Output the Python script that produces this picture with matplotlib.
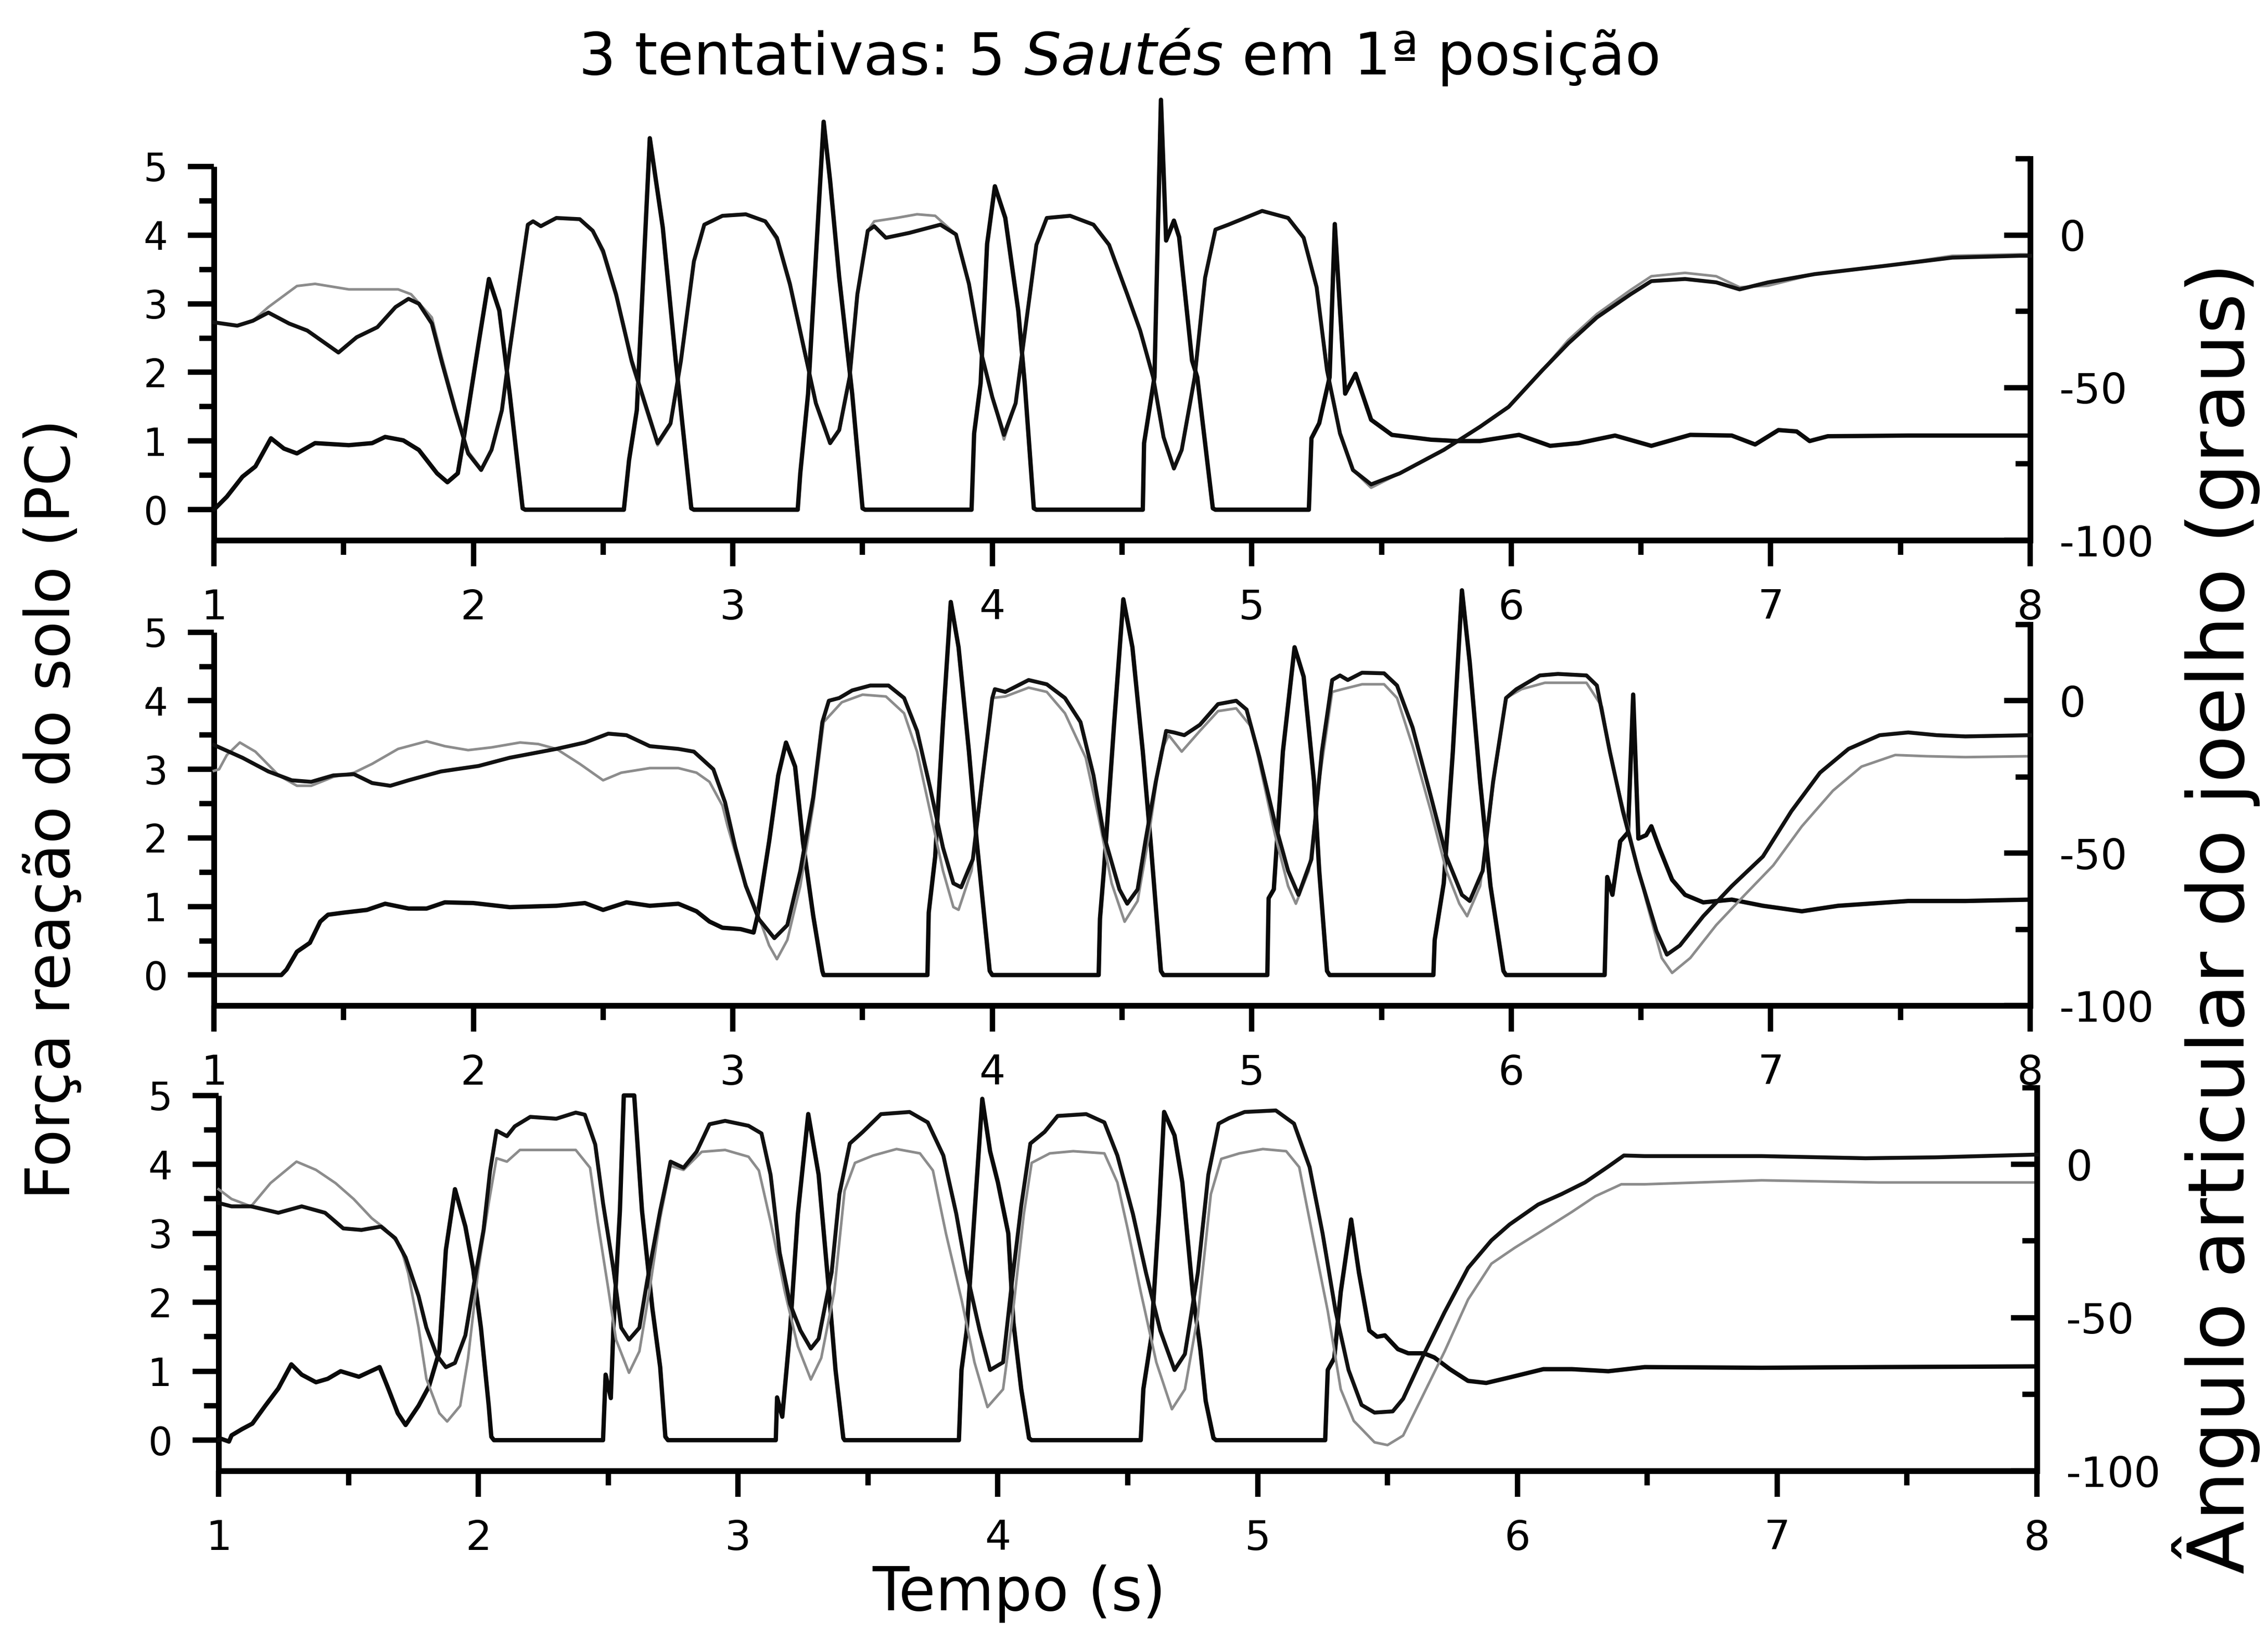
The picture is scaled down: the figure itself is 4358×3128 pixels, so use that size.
import matplotlib
matplotlib.use("Agg")
import matplotlib.pyplot as plt
from matplotlib.ticker import MultipleLocator, FixedLocator, NullFormatter

plt.rcParams['font.family'] = ['DejaVu Sans']
plt.rcParams['axes.unicode_minus'] = False

# ---------------- data (time s, value) ----------------
# Panel 1 -- ground reaction force (PC)
p1_force = [(1.00,0),(1.05,0.19),(1.11,0.48),(1.16,0.63),(1.22,1.04),(1.27,0.89),(1.32,0.82),(1.39,0.97),
    (1.52,0.94),(1.61,0.97),(1.66,1.06),(1.73,1.01),(1.79,0.87),(1.86,0.53),(1.90,0.40),(1.94,0.53),(1.96,0.97),
    (2.02,2.42),(2.06,3.36),(2.10,2.90),(2.14,1.69),(2.19,0.02),(2.20,0),(2.58,0),(2.60,0.72),(2.63,1.45),
    (2.68,5.41),(2.73,4.11),(2.78,2.17),(2.84,0.02),(2.85,0),(3.25,0),(3.26,0.53),(3.29,1.69),(3.35,5.65),
    (3.375,4.79),(3.41,3.38),(3.46,1.69),(3.50,0.02),(3.51,0),(3.92,0),(3.93,1.11),(3.955,1.84),(3.98,3.87),
    (4.01,4.71),(4.05,4.25),(4.10,2.90),(4.125,1.84),(4.16,0.02),(4.17,0),(4.58,0),(4.585,0.97),(4.625,1.93),
    (4.65,5.97),(4.67,3.92),(4.70,4.21),(4.72,3.97),(4.77,2.17),(4.79,1.93),(4.85,0.02),(4.86,0),(5.22,0),
    (5.23,1.04),(5.26,1.26),(5.30,1.93),(5.32,4.16),(5.36,1.69),(5.40,1.98),(5.46,1.31),(5.54,1.09),(5.69,1.02),
    (5.79,1.00),(5.88,1.00),(6.03,1.09),(6.15,0.93),(6.26,0.97),(6.40,1.08),(6.54,0.93),(6.69,1.09),(6.85,1.08),
    (6.94,0.95),(7.03,1.16),(7.10,1.14),(7.15,1.00),(7.22,1.07),(7.53,1.08),(8.00,1.08)]
# Panel 1 -- knee angle (graus), black and grey traces
p1_knee_black = [(1.00,-28.6),(1.09,-29.7),(1.15,-28.1),(1.21,-25.4),(1.29,-29.0),(1.36,-31.3),(1.43,-35.5),
    (1.48,-38.5),(1.55,-33.5),(1.63,-30.2),(1.70,-23.6),(1.75,-20.9),(1.79,-22.5),(1.84,-29.0),(1.88,-42.1),
    (1.93,-57.4),(1.98,-71.6),(2.03,-77.0),(2.07,-70.4),(2.11,-57.4),(2.14,-37.8),(2.18,-14.0),(2.21,3.4),
    (2.23,4.5),(2.26,2.9),(2.32,5.6),(2.41,5.2),(2.46,1.4),(2.50,-5.2),(2.55,-19.4),(2.61,-41.2),(2.67,-57.4),
    (2.71,-68.2),(2.76,-61.7),(2.80,-41.2),(2.85,-8.6),(2.89,3.4),(2.96,6.3),(3.05,6.8),(3.125,4.5),(3.17,-0.9),
    (3.22,-16.0),(3.27,-35.5),(3.32,-55.1),(3.375,-68.2),(3.41,-63.9),(3.45,-46.6),(3.48,-19.4),(3.52,1.4),
    (3.545,2.9),(3.59,-0.9),(3.68,0.7),(3.80,3.4),(3.86,0.2),(3.91,-16.0),(3.955,-37.8),(4.00,-53.1),
    (4.045,-65.5),(4.09,-55.1),(4.13,-29.0),(4.17,-3.2),(4.21,5.6),(4.30,6.3),(4.39,3.4),(4.45,-3.2),
    (4.52,-19.4),(4.57,-31.3),(4.62,-46.6),(4.66,-66.2),(4.70,-76.5),(4.73,-70.4),(4.78,-46.6),(4.82,-14.0),
    (4.86,1.8),(4.91,3.4),(5.04,7.9),(5.14,5.6),(5.20,-0.9),(5.25,-17.1),(5.29,-44.3),(5.34,-65.0),(5.39,-77.0),
    (5.46,-81.7),(5.57,-78.1),(5.74,-70.4),(5.88,-62.8),(5.99,-56.3),(6.12,-44.3),(6.22,-35.5),(6.33,-27.0),
    (6.46,-19.4),(6.54,-15.1),(6.67,-14.4),(6.79,-15.5),(6.88,-17.8),(6.99,-15.5),(7.17,-12.8),(7.44,-10.1),
    (7.70,-7.4),(7.96,-6.8),(8.00,-6.8)]
p1_knee_grey = [(1.00,-28.6),(1.09,-29.7),(1.15,-28.1),(1.21,-23.6),(1.32,-16.7),(1.39,-16.0),(1.52,-17.8),
    (1.71,-17.8),(1.76,-19.4),(1.84,-27.0),(1.88,-40.5),(1.93,-56.3),(1.98,-70.9),(2.03,-76.5),(2.07,-70.4),
    (2.11,-57.4),(2.14,-37.8),(2.18,-14.0),(2.21,3.4),(2.23,4.5),(2.26,2.9),(2.32,5.6),(2.41,5.2),(2.46,1.4),
    (2.50,-6.3),(2.55,-20.5),(2.61,-42.3),(2.67,-58.5),(2.71,-68.9),(2.76,-62.3),(2.80,-41.2),(2.85,-8.6),
    (2.89,3.4),(2.96,6.3),(3.05,6.8),(3.125,4.5),(3.17,-1.8),(3.22,-17.1),(3.27,-36.6),(3.32,-55.1),
    (3.375,-68.2),(3.41,-63.9),(3.45,-46.6),(3.48,-19.4),(3.52,1.4),(3.545,4.5),(3.63,5.6),(3.71,6.8),
    (3.78,6.3),(3.86,0.2),(3.91,-16.0),(3.955,-37.8),(4.00,-53.1),(4.045,-67.0),(4.09,-55.1),(4.13,-29.0),
    (4.17,-3.2),(4.21,5.6),(4.30,6.3),(4.39,3.4),(4.45,-3.2),(4.52,-19.4),(4.57,-31.3),(4.62,-46.6),
    (4.66,-66.2),(4.70,-76.5),(4.73,-70.4),(4.78,-46.6),(4.82,-14.0),(4.86,1.8),(4.91,3.4),(5.04,7.9),
    (5.14,5.6),(5.20,-0.9),(5.25,-17.1),(5.29,-44.3),(5.34,-65.0),(5.39,-77.0),(5.46,-82.8),(5.57,-78.1),
    (5.74,-70.4),(5.88,-62.8),(5.99,-56.3),(6.12,-44.3),(6.22,-34.4),(6.33,-25.9),(6.46,-18.0),(6.54,-13.5),
    (6.67,-12.4),(6.79,-13.5),(6.88,-17.1),(6.99,-16.6),(7.17,-12.8),(7.44,-10.1),(7.70,-6.8),(7.96,-6.3),
    (8.00,-6.3)]

# Panel 2
p2_force = [(1.00,0),(1.26,0),(1.28,0.08),(1.32,0.34),(1.37,0.47),(1.41,0.78),(1.44,0.88),(1.50,0.91),
    (1.59,0.95),(1.66,1.04),(1.75,0.97),(1.82,0.97),(1.89,1.06),(2.00,1.05),(2.14,0.99),(2.32,1.01),(2.43,1.05),
    (2.50,0.95),(2.59,1.06),(2.68,1.01),(2.79,1.04),(2.86,0.93),(2.91,0.78),(2.96,0.69),(3.03,0.67),(3.08,0.62),
    (3.095,0.86),(3.14,1.95),(3.175,2.91),(3.205,3.39),(3.24,3.04),(3.27,1.95),(3.31,0.86),(3.345,0.06),
    (3.35,0),(3.75,0),(3.755,0.91),(3.78,1.73),(3.81,3.69),(3.84,5.44),(3.87,4.78),(3.91,3.26),(3.94,1.95),
    (3.99,0.06),(4.00,0),(4.41,0),(4.415,0.82),(4.43,1.52),(4.47,3.69),(4.505,5.48),(4.54,4.78),(4.58,3.26),
    (4.61,1.95),(4.65,0.06),(4.66,0),(5.06,0),(5.065,1.12),(5.085,1.25),(5.12,3.26),(5.165,4.78),(5.20,4.35),
    (5.24,2.82),(5.26,1.52),(5.29,0.06),(5.30,0),(5.70,0),(5.705,0.51),(5.74,1.34),(5.775,3.26),(5.81,5.61),
    (5.84,4.56),(5.88,2.82),(5.92,1.30),(5.97,0.06),(5.98,0),(6.36,0),(6.37,1.43),(6.39,1.17),(6.42,1.95),
    (6.45,2.08),(6.47,4.09),(6.49,1.99),(6.52,2.04),(6.54,2.17),(6.57,1.86),(6.62,1.39),(6.67,1.17),(6.74,1.06),
    (6.85,1.10),(6.97,1.01),(7.12,0.93),(7.26,1.01),(7.53,1.08),(7.75,1.08),(8.00,1.10)]
p2_knee_black = [(1.00,-14.5),(1.11,-18.7),(1.21,-23.2),(1.30,-26.1),(1.375,-26.6),(1.46,-24.5),(1.54,-24.1),
    (1.61,-27.0),(1.68,-27.9),(1.75,-26.1),(1.875,-23.2),(2.02,-21.4),(2.14,-18.7),(2.32,-15.8),(2.43,-13.7),
    (2.52,-10.8),(2.59,-11.3),(2.68,-14.9),(2.79,-15.8),(2.85,-16.7),(2.925,-22.5),(2.97,-33.3),(3.01,-48.2),
    (3.05,-60.8),(3.10,-71.6),(3.16,-77.9),(3.21,-73.6),(3.26,-55.8),(3.31,-31.5),(3.345,-7.0),(3.37,0.0),
    (3.41,0.9),(3.46,3.4),(3.53,5.0),(3.60,5.0),(3.66,0.9),(3.71,-9.9),(3.76,-28.4),(3.81,-48.2),(3.85,-59.9),
    (3.88,-61.2),(3.925,-52.0),(3.96,-26.6),(4.00,0.9),(4.01,3.8),(4.05,2.9),(4.14,6.8),(4.21,5.4),(4.28,0.9),
    (4.34,-7.0),(4.39,-24.5),(4.43,-44.1),(4.49,-61.9),(4.52,-66.6),(4.56,-61.9),(4.59,-46.1),(4.63,-26.6),
    (4.67,-9.9),(4.70,-10.4),(4.74,-11.3),(4.80,-7.9),(4.87,-1.1),(4.94,0.0),(4.98,-2.9),(5.03,-18.7),
    (5.09,-40.3),(5.14,-55.8),(5.18,-63.7),(5.23,-52.0),(5.27,-16.7),(5.31,6.8),(5.34,8.3),(5.37,6.8),
    (5.425,9.2),(5.51,9.0),(5.56,5.0),(5.62,-8.8),(5.69,-31.3),(5.75,-51.1),(5.81,-63.7),(5.84,-65.7),
    (5.89,-55.8),(5.93,-26.6),(5.98,0.9),(6.02,3.8),(6.11,8.3),(6.18,8.8),(6.29,8.3),(6.33,5.0),(6.38,-16.7),
    (6.43,-36.2),(6.49,-55.8),(6.56,-75.6),(6.60,-83.3),(6.65,-80.3),(6.74,-70.7),(6.85,-60.8),(6.97,-51.1),
    (7.08,-36.2),(7.19,-23.6),(7.30,-15.8),(7.42,-11.3),(7.53,-10.4),(7.64,-11.3),(7.75,-11.7),(8.00,-11.3)]
p2_knee_grey = [(1.00,-23.0),(1.02,-22.5),(1.05,-17.8),(1.10,-13.7),(1.16,-16.7),(1.25,-24.5),(1.32,-27.9),
    (1.375,-27.9),(1.46,-25.0),(1.54,-23.6),(1.61,-20.7),(1.71,-15.8),(1.82,-13.3),(1.89,-14.9),(1.98,-16.2),
    (2.07,-15.3),(2.18,-13.7),(2.25,-14.2),(2.32,-15.8),(2.41,-20.7),(2.50,-26.1),(2.57,-23.6),(2.68,-22.1),
    (2.79,-22.1),(2.86,-23.6),(2.91,-26.6),(2.96,-34.4),(2.98,-41.2),(3.03,-55.8),(3.09,-68.6),(3.14,-80.3),
    (3.17,-84.8),(3.21,-78.5),(3.26,-60.8),(3.31,-34.4),(3.35,-7.0),(3.42,-0.5),(3.50,2.0),(3.59,1.4),
    (3.66,-4.1),(3.71,-16.7),(3.76,-36.2),(3.81,-55.8),(3.85,-67.7),(3.87,-68.6),(3.92,-55.8),(3.96,-28.4),
    (4.00,0.9),(4.05,1.4),(4.14,4.3),(4.21,2.9),(4.28,-4.1),(4.36,-18.7),(4.41,-38.3),(4.46,-59.9),
    (4.51,-72.5),(4.56,-65.7),(4.60,-46.1),(4.65,-16.7),(4.68,-11.3),(4.73,-16.7),(4.80,-9.9),(4.87,-3.4),
    (4.94,-2.5),(5.00,-8.8),(5.04,-24.5),(5.09,-44.1),(5.14,-60.8),(5.17,-66.6),(5.22,-55.8),(5.26,-26.6),
    (5.31,2.9),(5.35,3.8),(5.425,5.4),(5.51,5.4),(5.56,0.9),(5.62,-14.9),(5.69,-36.2),(5.75,-55.8),
    (5.80,-66.6),(5.83,-70.7),(5.88,-60.8),(5.93,-28.4),(5.98,0.9),(6.04,3.8),(6.13,5.9),(6.29,5.9),
    (6.35,-2.0),(6.39,-21.6),(6.45,-41.2),(6.52,-65.7),(6.58,-84.4),(6.62,-89.3),(6.69,-84.4),(6.79,-73.6),
    (6.90,-63.7),(7.01,-54.0),(7.12,-41.2),(7.24,-29.5),(7.35,-21.6),(7.48,-17.8),(7.60,-18.2),(7.75,-18.5),
    (8.00,-18.2)]

# Panel 3
p3_force = [(1.00,0.0),(1.01,0.02),(1.04,-0.02),(1.05,0.07),(1.09,0.16),(1.13,0.24),(1.18,0.50),(1.23,0.75),
    (1.28,1.10),(1.32,0.95),(1.375,0.84),(1.42,0.89),(1.47,1.00),(1.54,0.92),(1.62,1.06),(1.65,0.78),(1.69,0.39),
    (1.72,0.22),(1.77,0.50),(1.81,0.78),(1.85,1.29),(1.875,2.76),(1.91,3.64),(1.95,3.10),(1.98,2.48),
    (2.01,1.63),(2.04,0.50),(2.05,0.05),(2.06,0),(2.48,0),(2.49,0.95),(2.51,0.61),(2.52,1.63),(2.545,3.33),
    (2.56,5.0),(2.60,5.0),(2.63,3.33),(2.67,1.91),(2.70,1.06),(2.72,0.05),(2.73,0),(3.145,0),(3.15,0.62),
    (3.17,0.34),(3.20,1.59),(3.23,3.28),(3.27,4.73),(3.31,3.85),(3.35,2.15),(3.375,1.02),(3.405,0.03),
    (3.41,0),(3.85,0),(3.86,1.02),(3.88,1.59),(3.91,3.28),(3.94,4.95),(3.97,4.19),(4.00,3.74),(4.04,3.00),
    (4.06,1.70),(4.09,0.74),(4.12,0.03),(4.13,0),(4.55,0),(4.56,0.74),(4.59,1.47),(4.62,3.28),(4.64,4.76),
    (4.68,4.42),(4.71,3.74),(4.75,2.15),(4.78,1.30),(4.80,0.57),(4.83,0.03),(4.84,0),(5.26,0),(5.27,1.02),
    (5.295,1.19),(5.32,2.15),(5.36,3.20),(5.39,2.43),(5.43,1.59),(5.46,1.50),(5.49,1.52),(5.54,1.32),
    (5.58,1.26),(5.64,1.26),(5.68,1.20),(5.74,1.03),(5.81,0.86),(5.88,0.83),(5.97,0.91),(6.10,1.03),
    (6.21,1.03),(6.35,1.00),(6.49,1.06),(6.94,1.05),(7.39,1.06),(8.00,1.07)]
p3_knee_black = [(1.00,-12.6),(1.05,-13.7),(1.125,-13.7),(1.23,-15.8),(1.32,-13.7),(1.41,-15.8),(1.48,-20.9),
    (1.55,-21.4),(1.625,-20.3),(1.68,-24.1),(1.72,-30.4),(1.77,-43.0),(1.80,-53.3),(1.84,-62.3),(1.875,-66.2),
    (1.91,-64.8),(1.95,-55.8),(1.98,-40.5),(2.02,-21.4),(2.045,-2.3),(2.07,11.0),(2.11,9.2),(2.14,12.4),
    (2.20,15.5),(2.30,14.9),(2.375,16.9),(2.41,16.2),(2.45,6.5),(2.48,-12.6),(2.52,-34.2),(2.55,-53.3),
    (2.58,-57.2),(2.62,-53.3),(2.65,-38.0),(2.70,-15.1),(2.74,0.9),(2.79,-1.1),(2.84,4.1),(2.89,13.1),
    (2.95,14.2),(3.04,12.6),(3.09,10.1),(3.125,-3.4),(3.16,-28.8),(3.20,-45.5),(3.24,-54.2),(3.28,-60.1),
    (3.31,-56.9),(3.36,-35.3),(3.39,-9.7),(3.43,6.8),(3.48,10.6),(3.55,16.4),(3.66,17.1),(3.73,13.7),
    (3.79,2.9),(3.84,-16.2),(3.88,-35.3),(3.93,-54.2),(3.97,-67.1),(4.02,-64.6),(4.05,-41.6),(4.09,-13.5),
    (4.125,6.8),(4.18,10.6),(4.23,15.8),(4.34,16.4),(4.41,13.7),(4.46,2.9),(4.52,-16.2),(4.57,-35.3),
    (4.625,-54.2),(4.68,-67.1),(4.72,-61.9),(4.77,-35.3),(4.81,-3.4),(4.85,13.3),(4.89,15.1),(4.95,17.1),
    (5.07,17.6),(5.14,13.3),(5.20,-0.9),(5.25,-22.5),(5.30,-47.9),(5.35,-67.1),(5.40,-78.5),(5.45,-81.0),
    (5.52,-80.6),(5.56,-76.5),(5.63,-63.7),(5.72,-48.2),(5.81,-33.8),(5.90,-24.8),(5.97,-19.6),(6.08,-13.1),
    (6.17,-9.7),(6.26,-5.9),(6.35,-0.7),(6.41,2.9),(6.49,2.7),(6.94,2.7),(7.34,2.0),(7.61,2.3),(8.00,3.2)]
p3_knee_grey = [(1.00,-8.1),(1.05,-11.3),(1.125,-13.7),(1.20,-6.1),(1.30,0.9),(1.375,-1.8),(1.45,-6.1),
    (1.52,-11.3),(1.59,-17.6),(1.64,-20.9),(1.70,-26.6),(1.73,-35.5),(1.77,-53.3),(1.80,-70.0),(1.85,-81.2),
    (1.88,-83.9),(1.93,-78.8),(1.96,-63.5),(2.00,-34.2),(2.04,-12.6),(2.07,2.0),(2.11,0.9),(2.16,4.7),
    (2.25,4.7),(2.375,4.7),(2.43,-1.1),(2.46,-18.9),(2.50,-40.5),(2.53,-57.2),(2.58,-68.0),(2.62,-61.0),
    (2.66,-40.5),(2.70,-17.6),(2.74,-0.5),(2.79,-1.8),(2.86,4.1),(2.95,4.7),(3.04,2.5),(3.08,-2.0),
    (3.125,-18.7),(3.18,-41.6),(3.23,-59.4),(3.28,-70.2),(3.32,-63.2),(3.37,-41.6),(3.41,-8.6),(3.45,0.5),
    (3.52,2.9),(3.61,5.0),(3.70,3.6),(3.75,-2.0),(3.80,-22.5),(3.86,-44.1),(3.91,-64.6),(3.96,-79.2),
    (4.02,-73.4),(4.05,-54.2),(4.10,-16.2),(4.13,0.5),(4.20,3.6),(4.29,4.3),(4.41,3.6),(4.46,-5.9),
    (4.50,-21.2),(4.55,-41.6),(4.61,-64.6),(4.67,-79.9),(4.72,-73.4),(4.77,-49.3),(4.82,-9.7),(4.86,1.8),
    (4.93,3.6),(5.02,5.0),(5.11,4.3),(5.16,-0.9),(5.21,-22.5),(5.27,-47.9),(5.32,-73.4),(5.37,-83.7),
    (5.45,-90.7),(5.50,-91.6),(5.56,-88.5),(5.63,-76.5),(5.72,-61.0),(5.81,-44.1),(5.90,-32.4),(5.99,-27.2),
    (6.10,-21.4),(6.21,-15.5),(6.30,-10.4),(6.40,-6.5),(6.49,-6.5),(6.94,-5.2),(7.39,-5.9),(8.00,-5.9)]

title_parts = ["3 tentativas: 5 ", "Sautés", " em 1ª posição"]
xlabel = "Tempo (s)"
ylabel_left = "Força reação do solo (PC)"
ylabel_right = "Ângulo articular do joelho (graus)"
x_ticks = [1, 2, 3, 4, 5, 6, 7, 8]
force_ticks = [0, 1, 2, 3, 4, 5]
angle_ticks = [-100, -50, 0]
angle_minor = [-75, -25, 25]

# ---------------- figure ----------------
W, H, DPI = 4358, 3128, 100
fig = plt.figure(figsize=(W / DPI, H / DPI), dpi=DPI)

ANG_LO, ANG_HI = -100, 25
DEG_PER_PC = 22.5
F_LO = 4 + ANG_LO / DEG_PER_PC
F_HI = 4 + ANG_HI / DEG_PER_PC

panels = [
    (p1_force, p1_knee_black, p1_knee_grey),
    (p2_force, p2_knee_black, p2_knee_grey),
    (p3_force, p3_knee_black, p3_knee_grey),
]
positions = [
    [411 / W, 1 - 1038 / H, 3490 / W, 733 / H],
    [411 / W, 1 - 1932 / H, 3490 / W, 732 / H],
    [420 / W, 1 - 2826 / H, 3494 / W, 736 / H],
]

SPINE_W = 8
TICK_W = 7.5
for (force, kb, kg), pos in zip(panels, positions):
    ax = fig.add_axes(pos)
    axr = ax.twinx()
    ax.set_zorder(1)
    axr.set_zorder(2)
    ax.patch.set_visible(False)
    axr.patch.set_visible(False)

    ax.set_xlim(1, 8)
    ax.set_ylim(F_LO, F_HI)
    axr.set_ylim(ANG_LO, ANG_HI)

    t, v = zip(*force)
    ax.plot(t, v, color='#0a0a0a', lw=6.0, clip_on=False, solid_joinstyle='round',
            solid_capstyle='round', zorder=3)
    t, v = zip(*kg)
    axr.plot(t, v, color='#8c8c8c', lw=3.6, clip_on=False, solid_joinstyle='round', zorder=2)
    t, v = zip(*kb)
    axr.plot(t, v, color='#111111', lw=5.4, clip_on=False, solid_joinstyle='round', zorder=3)

    for s in ('top', 'right'):
        ax.spines[s].set_visible(False)
    for s in ('top', 'left', 'bottom'):
        axr.spines[s].set_visible(False)
    ax.spines['left'].set_bounds(F_LO, 5)
    for s in ('left', 'bottom'):
        ax.spines[s].set_linewidth(SPINE_W)
        ax.spines[s].set_capstyle('butt')
    axr.spines['right'].set_linewidth(SPINE_W)

    ax.xaxis.set_major_locator(FixedLocator(x_ticks))
    ax.xaxis.set_minor_locator(MultipleLocator(0.5))
    ax.yaxis.set_major_locator(FixedLocator(force_ticks))
    ax.yaxis.set_minor_locator(MultipleLocator(0.5))
    ax.tick_params(axis='x', which='major', direction='out', length=36, width=TICK_W,
                   labelsize=57, pad=30)
    ax.tick_params(axis='x', which='minor', direction='out', length=20, width=TICK_W)
    ax.tick_params(axis='y', which='major', direction='out', length=36, width=TICK_W,
                   labelsize=53, pad=28)
    ax.tick_params(axis='y', which='minor', direction='out', length=20, width=TICK_W)

    axr.yaxis.set_major_locator(FixedLocator(angle_ticks))
    axr.yaxis.set_minor_locator(FixedLocator(angle_minor))
    axr.yaxis.set_minor_formatter(NullFormatter())
    axr.tick_params(axis='y', which='major', direction='in', length=36, width=TICK_W,
                    labelsize=58, pad=40)
    axr.tick_params(axis='y', which='minor', direction='in', length=20, width=TICK_W)

# axis titles
fig.text(0.0234, 0.503, ylabel_left, rotation=90, ha='center', va='center', fontsize=85)
fig.text(0.977, 0.436, ylabel_right, rotation=90, ha='center', va='center', fontsize=108)
fig.text(0.4495, 0.021, xlabel, ha='center', va='center', fontsize=83)

# title built from pieces (italic "Sautés")
t0 = fig.text(1112 / W, 1 - 143 / H, title_parts[0], ha='left', va='baseline', fontsize=81)
t1 = fig.axes[0].annotate(title_parts[1], xy=(1, 0), xycoords=t0, ha='left', va='bottom',
                          fontsize=81, style='italic', annotation_clip=False)
t2 = fig.axes[0].annotate(title_parts[2], xy=(1, 0), xycoords=t1, ha='left', va='bottom',
                          fontsize=81, annotation_clip=False)

fig.savefig("out.png", dpi=DPI, facecolor='white')
